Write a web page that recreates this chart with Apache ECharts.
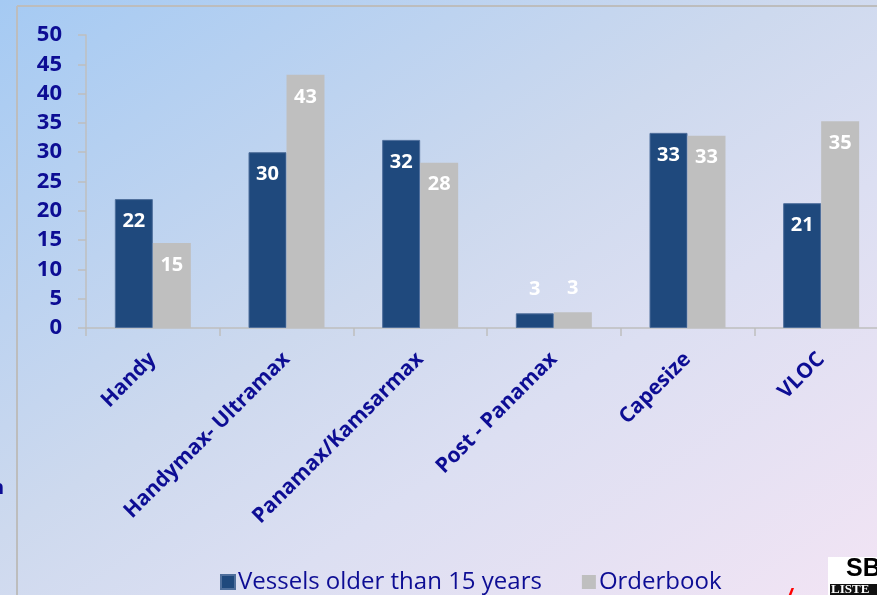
<!DOCTYPE html>
<html>
<head>
<meta charset="utf-8">
<script src="https://cdn.jsdelivr.net/npm/echarts@6/dist/echarts.min.js"></script>
<style>
html,body{margin:0;padding:0;width:877px;height:595px;overflow:hidden;}
body{background:linear-gradient(to bottom right,#a5caf3 0%,#cdd9ee 45%,#dcdff2 65%,#f2e4f4 100%);}
#main{width:900px;height:595px;}
</style>
</head>
<body>
<div id="main"></div>
<script>
const categories = ['Handy', 'Handymax- Ultramax', 'Panamax/Kamsarmax', 'Post - Panamax', 'Capesize', 'VLOC'];
const olderThan15 = [22, 30, 32.1, 2.5, 33.3, 21.3];
const orderbook = [14.5, 43.2, 28.2, 2.7, 32.8, 35.3];
const yTicks = { min: 0, max: 50, interval: 5 };
const seriesNames = ['Vessels older than 15 years', 'Orderbook'];

const FONT = '"Open Sans", "Noto Sans", sans-serif';
const NAVY = '#0d0d94';

function withLabels(arr) {
  return arr.map(v => v < 5
    ? { value: v, label: { position: 'top', distance: 14 } }
    : { value: v });
}

const labelStyle = {
  show: true,
  position: 'insideTop',
  distance: 12,
  color: '#ffffff',
  fontFamily: FONT,
  fontWeight: 'bold',
  fontSize: 20,
  formatter: p => Math.round(p.value)
};

const chart = echarts.init(document.getElementById('main'));
chart.setOption({
  animation: false,
  grid: { left: 86, top: 35, height: 293, width: 802, containLabel: false },
  legend: {
    left: 220,
    top: 570,
    padding: 0,
    itemWidth: 14,
    itemHeight: 14,
    itemGap: 40,
    icon: 'rect',
    textStyle: { color: NAVY, fontFamily: FONT, fontSize: 24, padding: [0, 0, 0, -2] },
    data: seriesNames
  },
  xAxis: {
    type: 'category',
    data: categories,
    axisLine: { lineStyle: { color: '#bfbfbf', width: 1.5 } },
    axisTick: { show: true, length: 8, lineStyle: { color: '#bfbfbf', width: 1.5 } },
    axisLabel: {
      rotate: 45,
      interval: 0,
      margin: 28,
      color: NAVY,
      fontFamily: FONT,
      fontWeight: 'bold',
      fontSize: 21
    }
  },
  yAxis: {
    type: 'value',
    min: yTicks.min,
    max: yTicks.max,
    interval: yTicks.interval,
    axisLine: { show: true, lineStyle: { color: '#bfbfbf', width: 1.5 } },
    axisTick: { show: true, length: 8, lineStyle: { color: '#bfbfbf', width: 1.5 } },
    splitLine: { show: false },
    axisLabel: {
      margin: 24,
      color: NAVY,
      fontFamily: FONT,
      fontWeight: 'bold',
      fontSize: 22
    }
  },
  series: [
    {
      name: seriesNames[0],
      type: 'bar',
      barWidth: 38,
      barGap: '0%',
      itemStyle: { color: '#1f497d', borderColor: '#4f6f9c', borderWidth: 1 },
      label: labelStyle,
      data: withLabels(olderThan15)
    },
    {
      name: seriesNames[1],
      type: 'bar',
      barWidth: 38,
      barGap: '0%',
      itemStyle: { color: '#bfbfbf' },
      label: labelStyle,
      data: withLabels(orderbook)
    }
  ],
  graphic: [
    { type: 'line', shape: { x1: 17, y1: 6, x2: 900, y2: 6 }, style: { stroke: '#bdbdbd', lineWidth: 2 }, silent: true },
    { type: 'line', shape: { x1: 17, y1: 6, x2: 17, y2: 595 }, style: { stroke: '#bdbdbd', lineWidth: 2 }, silent: true },
    { type: 'text', left: -9, top: 478, style: { text: 'n', fill: NAVY, font: 'bold 20px ' + FONT } },
    { type: 'rect', shape: { x: 828, y: 557, width: 72, height: 38 }, style: { fill: '#ffffff' } },
    { type: 'text', left: 846, top: 557, style: { text: 'SB', fill: '#000000', font: 'bold 25px "Liberation Sans", sans-serif' } },
    { type: 'rect', shape: { x: 830, y: 584, width: 70, height: 11 }, style: { fill: '#111111' } },
    { type: 'text', left: 831, top: 583, style: { text: 'LISTE', fill: '#ffffff', font: 'bold 13px "Liberation Serif", serif' } },
    { type: 'text', left: 786, top: 587, style: { text: '/', fill: '#ff0000', font: 'bold italic 22px "Liberation Sans", sans-serif' } }
  ]
});
</script>
</body>
</html>
